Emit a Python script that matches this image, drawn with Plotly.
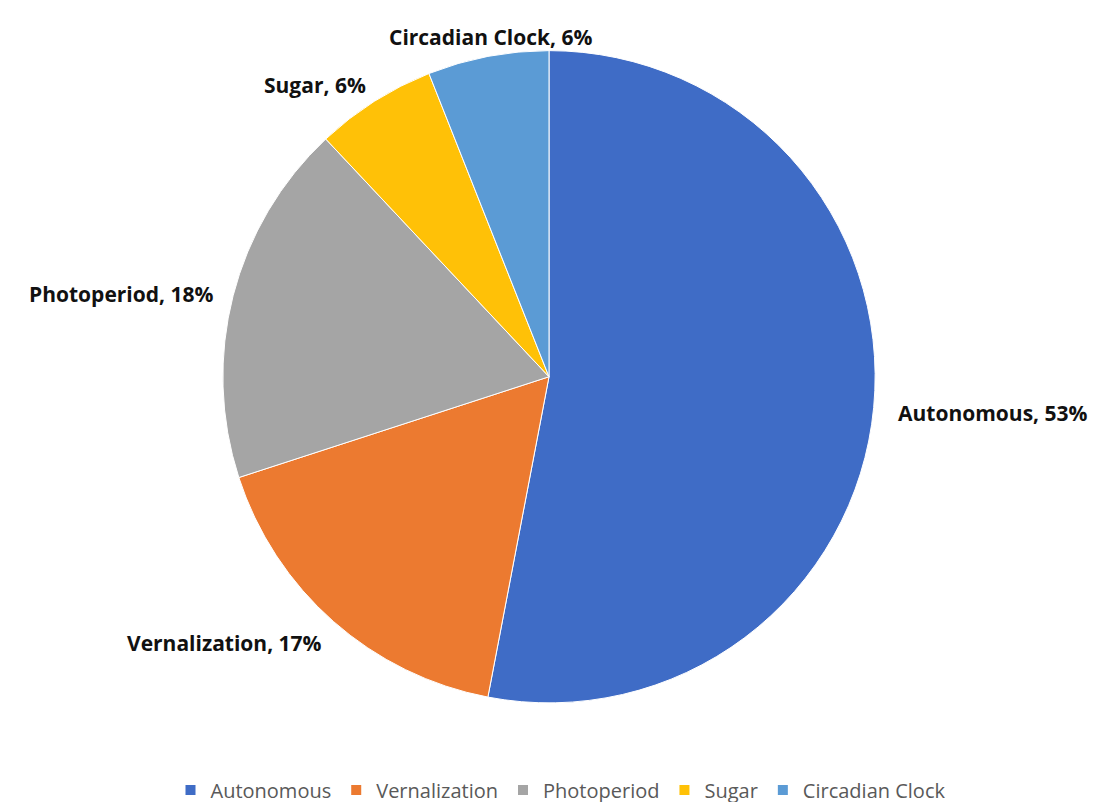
import math
import plotly.graph_objects as go

categories = ["Autonomous", "Vernalization", "Photoperiod", "Sugar", "Circadian Clock"]
values = [53, 17, 18, 6, 6]
colors = ["#3F6CC6", "#EC7A30", "#A5A5A5", "#FFC107", "#5B9BD5"]

W, H = 1105, 802
cx, cy, r = 549, 376, 325   # target pie centre and radius (pixels)
dom_dx, dom_dy, dom_dr = -8, -4, 4   # compensation for plotly's pie inset
label_gap = 28

dcx, dcy, dr = cx + dom_dx, cy + dom_dy, r + dom_dr

fig = go.Figure(go.Pie(
    labels=categories,
    values=values,
    sort=False,
    direction="clockwise",
    rotation=0,
    marker=dict(colors=colors, line=dict(color="white", width=1)),
    textinfo="none",
    hole=0,
    domain=dict(x=[(dcx - dr) / W, (dcx + dr) / W], y=[(H - dcy - dr) / H, (H - dcy + dr) / H]),
    showlegend=True,
))

# data labels placed along each slice's mid-angle, computed from the values
total = sum(values)
cum = 0
for lab, v in zip(categories, values):
    mid = (cum + v / 2) / total * 2 * math.pi
    cum += v
    s = math.sin(mid)
    R = r + (label_gap if s < 0 else label_gap - 12)
    px = cx + R * s
    py = cy - R * math.cos(mid)
    if abs(s) < 0.3:
        xa = "center"
    else:
        xa = "left" if s > 0 else "right"
    fig.add_annotation(
        x=px / W, y=1 - py / H, xref="paper", yref="paper",
        text=f"<b>{lab}, {round(v / total * 100)}%</b>",
        showarrow=False, xanchor=xa, yanchor="middle",
        font=dict(family="Open Sans, Lato, sans-serif", size=21, color="#111111"),
    )

fig.update_layout(
    width=W, height=H,
    margin=dict(l=0, r=0, t=0, b=0),
    paper_bgcolor="white",
    plot_bgcolor="white",
    legend=dict(
        orientation="h", x=0.5, xanchor="center", y=1 - 789 / H, yanchor="middle",
        font=dict(family="Open Sans, Lato, sans-serif", size=20, color="#595959"),
        itemsizing="constant",
    ),
)

fig.write_html("out.html")
